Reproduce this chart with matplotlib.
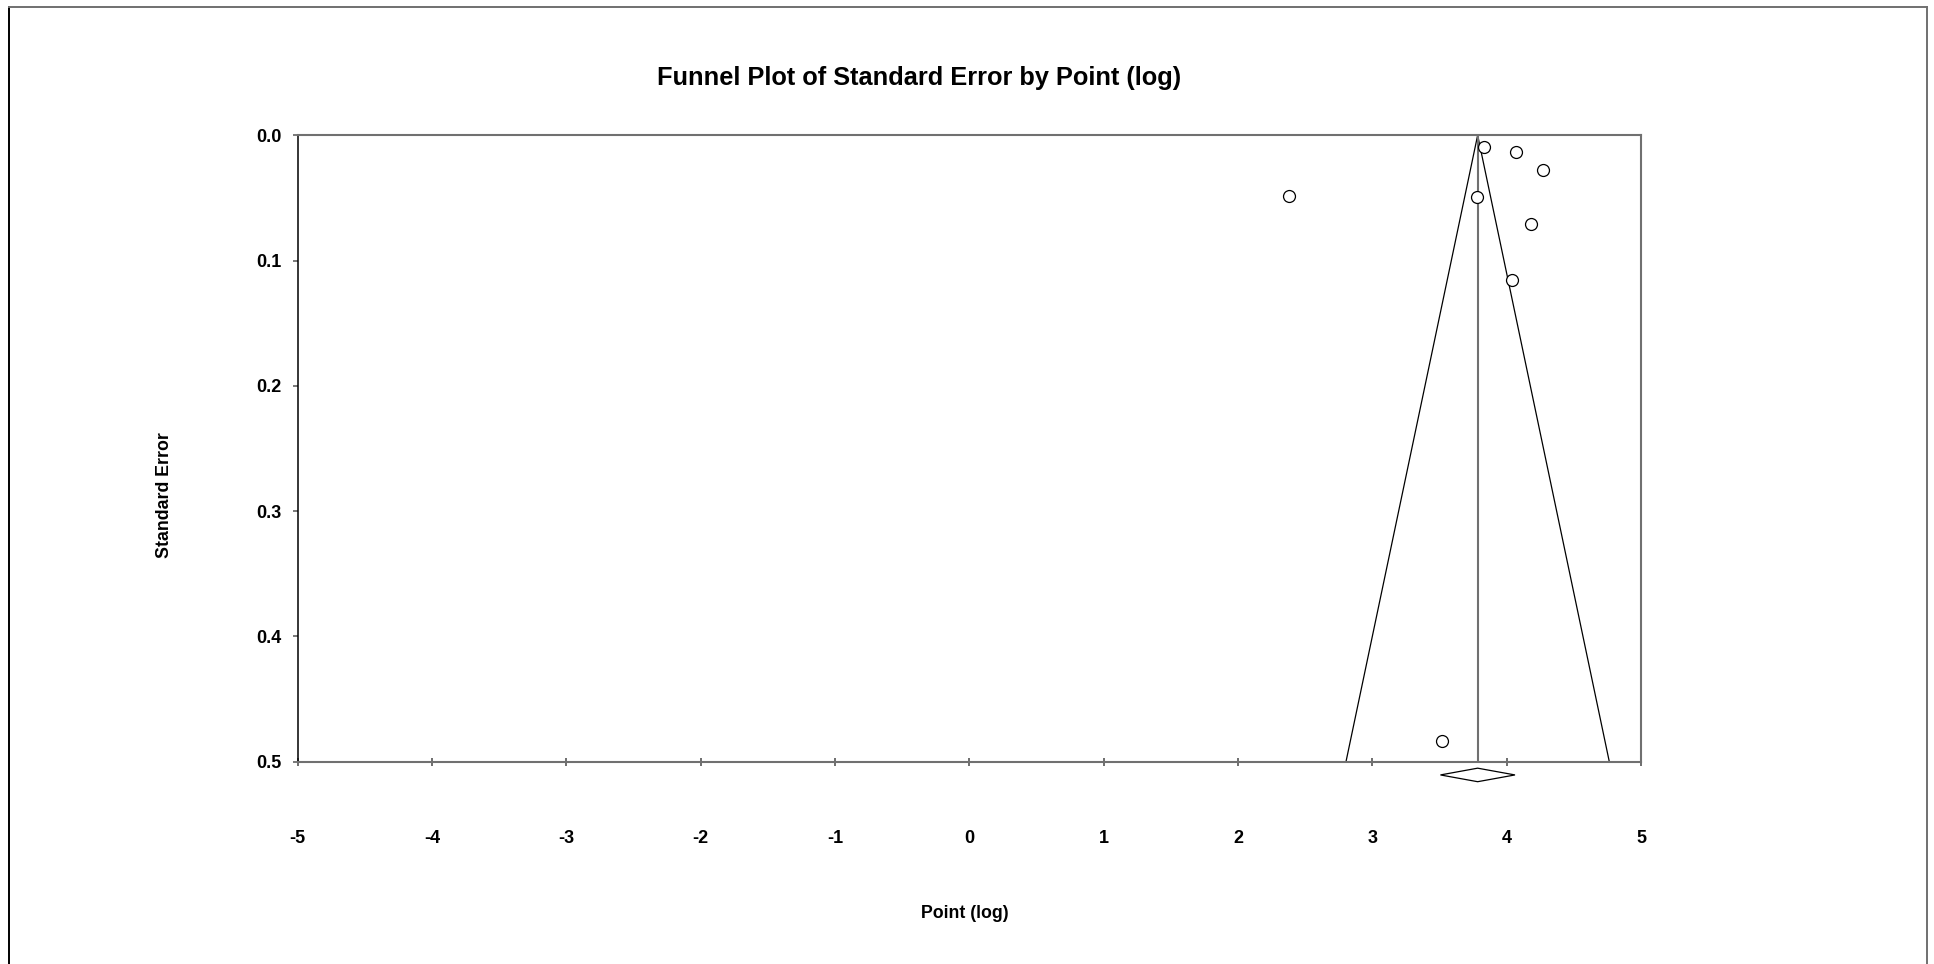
import matplotlib
matplotlib.use("Agg")
import matplotlib.pyplot as plt
from matplotlib.lines import Line2D
from matplotlib.patches import Polygon

# ---- data ----
point_log = [3.833, 4.069, 4.268, 2.382, 3.781, 4.183, 4.042, 3.516]
std_error = [0.0096, 0.0136, 0.0279, 0.0485, 0.0495, 0.0706, 0.1153, 0.4835]
summary_point = 3.784
summary_low = 3.507
summary_high = 4.062
x_ticks = [-5, -4, -3, -2, -1, 0, 1, 2, 3, 4, 5]
y_ticks = [0.0, 0.1, 0.2, 0.3, 0.4, 0.5]
se_range = [0.0, 0.5]

title = "Funnel Plot of Standard Error by Point (log)"
xlabel = "Point (log)"
ylabel = "Standard Error"

plt.rcParams['font.family'] = ['Liberation Sans', 'DejaVu Sans']
plt.rcParams['font.weight'] = 'bold'

GRAY = '#707070'

fig = plt.figure(figsize=(19.34, 9.64), dpi=100)
ax = fig.add_axes([0.1539, 0.2099, 0.6946, 0.6498])

# funnel limits
z = 1.96
ax.plot([summary_point, summary_point - z * se_range[1]], se_range, color='black', lw=0.9)
ax.plot([summary_point, summary_point + z * se_range[1]], se_range, color='black', lw=0.9)
ax.plot([summary_point, summary_point], se_range, color=GRAY, lw=1.5)

# studies
ax.plot(point_log, std_error, linestyle='none', marker='o', markersize=8.6,
        markerfacecolor='white', markeredgecolor='black', markeredgewidth=0.9,
        clip_on=False, zorder=5)

# summary diamond below axis
yd = 0.5106
hd = 0.0054
diamond = Polygon([(summary_low, yd), (summary_point, yd - hd),
                   (summary_high, yd), (summary_point, yd + hd)],
                  closed=True, facecolor='white', edgecolor='black', lw=0.9,
                  clip_on=False, zorder=5)
ax.add_patch(diamond)

ax.set_xlim(-5, 5)
ax.set_ylim(0.5, 0.0)
ax.set_xticks(x_ticks)
ax.set_xticklabels([str(v) for v in x_ticks])
ax.set_yticks(y_ticks)
ax.set_yticklabels([f"{v:.1f}" for v in y_ticks])

for s in ['top', 'right', 'bottom']:
    ax.spines[s].set_color(GRAY)
    ax.spines[s].set_linewidth(1.5)
ax.spines['left'].set_color('black')
ax.spines['left'].set_linewidth(1.1)

ax.tick_params(axis='x', direction='inout', length=5.8, width=1.2, color='#555555',
               pad=46, labelsize=13)
ax.tick_params(axis='y', direction='out', length=3.6, width=1.1, color='#555555',
               pad=8, labelsize=13)
for lab in ax.get_xticklabels() + ax.get_yticklabels():
    lab.set_fontweight('bold')

ax.set_xlabel(xlabel, fontsize=12.8, fontweight='bold', va='baseline')
ax.xaxis.set_label_coords(0.4968, -0.2495)
ax.set_ylabel(ylabel, fontsize=12.8, fontweight='bold', va='center')
ax.yaxis.set_label_coords(-0.0988, 0.425)

fig.text(0.4754, 0.9122, title, fontsize=18.3, fontweight='bold',
         ha='center', va='baseline')

# outer frame (bottom edge runs off the image)
fig.add_artist(Line2D([0.0048, 0.0048], [-0.01, 0.9931], color='black', lw=1.4,
                      transform=fig.transFigure))
fig.add_artist(Line2D([0.0048, 0.9962], [0.9931, 0.9931], color=GRAY, lw=1.4,
                      transform=fig.transFigure))
fig.add_artist(Line2D([0.9962, 0.9962], [-0.01, 0.9931], color=GRAY, lw=1.4,
                      transform=fig.transFigure))

fig.savefig("out.png", dpi=100, facecolor='white')
